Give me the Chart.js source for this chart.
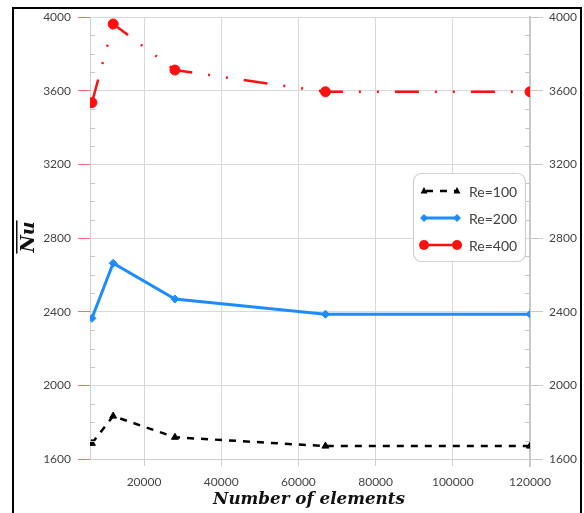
<!DOCTYPE html>
<html>
<head>
<meta charset="utf-8">
<script src="https://cdn.jsdelivr.net/npm/chart.js@4/dist/chart.umd.min.js"></script>
<style>
html,body{margin:0;padding:0;background:#fff;}
#wrap{position:relative;width:584px;height:513px;}
canvas{display:block;}
</style>
</head>
<body>
<div id="wrap"><canvas id="c" width="584" height="513"></canvas></div>
<script>
// ---- data ----
const elements = [6500, 12000, 28000, 67000, 120000];
const re100 = [1685, 1833, 1718, 1670, 1670];
const re200 = [2364, 2663, 2469, 2386, 2386];
const re400 = [3535, 3962, 3712, 3594, 3594];
const seriesNames = ['Re=100', 'Re=200', 'Re=400'];
const xTickValues = [20000, 40000, 60000, 80000, 100000, 120000];
const yTickValues = [1600, 2000, 2400, 2800, 3200, 3600, 4000];
const xTitle = 'Number of elements';
const yTitle = 'Nu';

const TICK_FONT = {family: 'Lato', size: 12};
const TICK_COLOR = '#454545';

function pts(ys){ return elements.map((x,i)=>({x:x, y:ys[i]})); }

const styles = [
  {color:'#000000', dash:[7,7], width:2.5, point:'triangle', r:4},
  {color:'#1e8cff', dash:[], width:3, point:'rectRot', r:4},
  {color:'#ff1010', dash:[24,16,2,16,2,16], width:2.5, point:'circle', r:5}
];

const datasets = [re100, re200, re400].map((d,i)=>({
  label: seriesNames[i],
  data: pts(d),
  borderColor: styles[i].color,
  backgroundColor: styles[i].color,
  borderWidth: styles[i].width,
  borderDash: styles[i].dash,
  pointStyle: styles[i].point,
  pointRadius: styles[i].r,
  pointBorderWidth: 1,
  tension: 0,
  fill: false
}));

function drawMarker(ctx, style, x, y, r, color){
  ctx.save();
  ctx.fillStyle = color; ctx.strokeStyle = color; ctx.setLineDash([]);
  ctx.beginPath();
  if(style==='circle'){ ctx.arc(x,y,r,0,Math.PI*2); }
  else if(style==='triangle'){
    ctx.moveTo(x, y-r); ctx.lineTo(x+r*0.87, y+r*0.6); ctx.lineTo(x-r*0.87, y+r*0.6); ctx.closePath();
  } else if(style==='rectRot'){
    ctx.moveTo(x, y-r); ctx.lineTo(x+r, y); ctx.lineTo(x, y+r); ctx.lineTo(x-r, y); ctx.closePath();
  }
  ctx.fill();
  ctx.restore();
}

const decor = {
  id:'decor',
  beforeDraw(chart){
    const ctx = chart.ctx;
    ctx.save();
    ctx.fillStyle = '#fff';
    ctx.fillRect(0,0,chart.width,chart.height);
    ctx.restore();
  },
  afterDraw(chart){
    const ctx = chart.ctx;
    const ca = chart.chartArea;
    const yL = chart.scales.y;
    ctx.save();
    // minor ticks
    ctx.strokeStyle = '#c8c8c8'; ctx.lineWidth = 1;
    for(let v=1600; v<=4000; v+=100){
      if(v%400===0) continue;
      const py = Math.round(yL.getPixelForValue(v))+0.5;
      ctx.beginPath(); ctx.moveTo(ca.left, py); ctx.lineTo(ca.left+5, py); ctx.stroke();
      ctx.beginPath(); ctx.moveTo(ca.right-5, py); ctx.lineTo(ca.right, py); ctx.stroke();
    }
    // right axis extension below
    ctx.strokeStyle = '#c8c8c8'; ctx.lineWidth = 2;
    ctx.beginPath(); ctx.moveTo(ca.right, ca.bottom); ctx.lineTo(ca.right, ca.bottom+8); ctx.stroke();

    // x title
    ctx.fillStyle = '#111';
    ctx.textAlign = 'center'; ctx.textBaseline = 'alphabetic';
    let fs = 19;
    ctx.font = 'bold italic '+fs+'px "DejaVu Serif"';
    const w = ctx.measureText(xTitle).width;
    fs = fs*192/w;
    ctx.font = 'bold italic '+fs.toFixed(2)+'px "DejaVu Serif"';
    ctx.fillText(xTitle, 309, 504);

    // y title with overline
    ctx.save();
    ctx.translate(34, 237);
    ctx.rotate(-Math.PI/2);
    ctx.font = 'bold italic 19px "DejaVu Serif"';
    ctx.textAlign = 'center';
    ctx.fillText(yTitle, 0, 0);
    const tw = ctx.measureText(yTitle).width;
    ctx.fillRect(-tw/2-1, -18, tw+2, 1.5);
    ctx.restore();

    // legend
    const lx = 413, ly = 173, lw = 112, lh = 88;
    ctx.fillStyle = '#fff';
    ctx.strokeStyle = '#d0d0d0'; ctx.lineWidth = 1.2;
    ctx.beginPath();
    if(ctx.roundRect){ ctx.roundRect(lx+0.5, ly+0.5, lw, lh, 8); } else { ctx.rect(lx+0.5, ly+0.5, lw, lh); }
    ctx.fill(); ctx.stroke();
    const rows = [191, 218, 245];
    chart.data.datasets.forEach((ds,i)=>{
      const y = rows[i], s = styles[i];
      ctx.save();
      ctx.strokeStyle = s.color; ctx.lineWidth = s.width;
      if(i===0){ ctx.setLineDash([7,7]); ctx.lineDashOffset = -3; }
      else { ctx.setLineDash([]); }
      ctx.beginPath();
      if(i===2){ ctx.moveTo(428,y); ctx.lineTo(452,y); }
      else { ctx.moveTo(423,y); ctx.lineTo(458,y); }
      ctx.stroke();
      ctx.restore();
      drawMarker(ctx, s.point, 424, y, s.r, s.color);
      drawMarker(ctx, s.point, 457, y, s.r, s.color);
      ctx.fillStyle = '#404040';
      ctx.font = '14px Lato';
      ctx.textAlign = 'left'; ctx.textBaseline = 'middle';
      ctx.fillText(ds.label, 469, y+1);
    });

    // frame
    ctx.strokeStyle = '#000'; ctx.lineWidth = 2;
    ctx.strokeRect(13, 8, 568, 520);
    ctx.restore();
  }
};

new Chart(document.getElementById('c'), {
  type: 'line',
  data: { datasets },
  plugins: [decor],
  options: {
    responsive: false,
    animation: false,
    devicePixelRatio: 1,
    layout: { padding: { top: 17, left: 0, right: 0, bottom: 0 } },
    plugins: { legend: { display: false }, tooltip: { enabled: false } },
    scales: {
      x: {
        type: 'linear', min: 6000, max: 120000,
        afterBuildTicks: s => { s.ticks = xTickValues.map(v=>({value:v})); },
        afterFit: s => { s.height = 54; },
        grid: { color: '#d9d9d9', lineWidth: 1, drawTicks: true, tickLength: 7, tickColor: '#cfcfcf' },
        border: { color: '#d0d0d0', width: 1 },
        ticks: { font: TICK_FONT, color: TICK_COLOR, padding: 9, maxRotation: 0, callback: v => String(v) }
      },
      y: {
        position: 'left', min: 1600, max: 4000,
        afterBuildTicks: s => { s.ticks = yTickValues.map(v=>({value:v})); },
        afterFit: s => { s.width = 90; },
        grid: { color: '#d9d9d9', lineWidth: 1, tickColor: '#ff6b6b', tickLength: 12 },
        border: { color: '#d0d0d0', width: 1 },
        ticks: { font: TICK_FONT, color: TICK_COLOR, padding: 7, callback: v => String(v) }
      },
      y2: {
        position: 'right', min: 1600, max: 4000,
        afterBuildTicks: s => { s.ticks = yTickValues.map(v=>({value:v})); },
        afterFit: s => { s.width = 54; },
        grid: { drawOnChartArea: false, color: '#c8c8c8', tickColor: '#c8c8c8', tickLength: 13 },
        border: { color: '#c8c8c8', width: 2 },
        ticks: { font: TICK_FONT, color: TICK_COLOR, padding: 6, callback: v => String(v) }
      }
    }
  }
});
</script>
</body>
</html>
